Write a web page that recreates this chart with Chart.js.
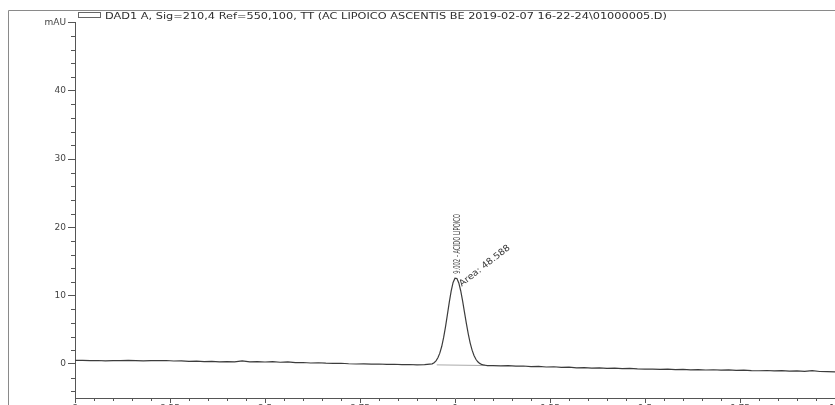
<!DOCTYPE html>
<html><head><meta charset="utf-8">
<script src="https://cdn.jsdelivr.net/npm/chart.js@4/dist/chart.umd.min.js"></script>
<style>
html,body{margin:0;padding:0;overflow:hidden;background:#fff;width:835px;height:405px}
#wrap{position:absolute;left:0;top:0;width:860px;height:430px}
</style>
</head><body><div id="wrap"><canvas id="c" width="860" height="430"></canvas></div>
<script>
// ---- data (min, mAU) ----
const preTimes = [8.00,8.02,8.04,8.06,8.08,8.10,8.12,8.14,8.16,8.18,8.20,8.22,8.24,8.26,8.28,8.30,8.32,8.34,8.36,8.38,8.40,8.42,8.44,8.46,8.48,8.50,8.52,8.54,8.56,8.58,8.60,8.62,8.64,8.66,8.68,8.70,8.72,8.74,8.76,8.78,8.80,8.82,8.84,8.86,8.88,8.90,8.92];
const preMau = [0.52,0.50,0.47,0.49,0.45,0.48,0.46,0.50,0.47,0.44,0.48,0.46,0.49,0.42,0.45,0.36,0.40,0.33,0.37,0.30,0.34,0.28,0.45,0.30,0.33,0.27,0.32,0.24,0.29,0.17,0.20,0.13,0.16,0.10,0.07,0.09,0.02,-0.02,0.01,-0.05,-0.02,-0.08,-0.06,-0.12,-0.09,-0.14,-0.11];
const peakTimes = [8.940,8.945,8.950,8.955,8.960,8.965,8.970,8.975,8.980,8.985,8.990,8.995,9.000,9.005,9.010,9.015,9.020,9.025,9.030,9.035,9.040,9.045,9.050,9.055,9.060,9.065,9.070,9.075,9.080,9.085];
const peakMau = [0.01,0.17,0.44,0.89,1.57,2.54,3.84,5.43,7.21,9.04,10.69,11.92,12.55,12.50,11.85,10.71,9.22,7.55,5.89,4.36,3.05,2.01,1.23,0.67,0.30,0.07,-0.08,-0.16,-0.20,-0.25];
const postTimes = [9.10,9.12,9.14,9.16,9.18,9.20,9.22,9.24,9.26,9.28,9.30,9.32,9.34,9.36,9.38,9.40,9.42,9.44,9.46,9.48,9.50,9.52,9.54,9.56,9.58,9.60,9.62,9.64,9.66,9.68,9.70,9.72,9.74,9.76,9.78,9.80,9.82,9.84,9.86,9.88,9.90,9.92,9.94,9.96,9.98,10.00];
const postMau = [-0.25,-0.30,-0.27,-0.34,-0.31,-0.40,-0.37,-0.46,-0.42,-0.52,-0.49,-0.58,-0.55,-0.62,-0.59,-0.66,-0.63,-0.70,-0.67,-0.73,-0.76,-0.78,-0.80,-0.77,-0.84,-0.81,-0.87,-0.84,-0.90,-0.86,-0.93,-0.89,-0.96,-0.92,-0.98,-1.01,-0.97,-1.04,-1.00,-1.06,-1.03,-1.10,-0.98,-1.12,-1.15,-1.17];
const intTimes = [8.952, 9.090];
const intMau = [-0.15, -0.25];
const peakTime = 9.002;
const peakTop = 12.6;
const peakName = "9.002 - ACIDO LIPOICO";
const peakArea = "Area: 48.588";
const titleText = "DAD1 A, Sig=210,4 Ref=550,100, TT (AC LIPOICO ASCENTIS BE 2019-02-07 16-22-24\\01000005.D)";
const xTicks = [8, 8.25, 8.5, 8.75, 9, 9.25, 9.5, 9.75, 10];
const yTicks = [0, 10, 20, 30, 40, 50];
const yUnit = "mAU";

const times = preTimes.concat(peakTimes, postTimes);
const mau = preMau.concat(peakMau, postMau);
const signal = times.map((t, i) => ({x: t, y: mau[i]}));
const intLine = intTimes.map((t, i) => ({x: t, y: intMau[i]}));

const FONT = '"DejaVu Sans", sans-serif';

const deco = {
  id: 'deco',
  afterDraw(chart) {
    const {ctx, chartArea: a, scales: {x, y}} = chart;
    ctx.save();
    // outer frame
    ctx.strokeStyle = '#8a8a8a'; ctx.lineWidth = 1;
    ctx.beginPath(); ctx.moveTo(8.5, 430); ctx.lineTo(8.5, 10.5); ctx.lineTo(860, 10.5); ctx.stroke();
    // legend swatch
    ctx.strokeStyle = '#666';
    ctx.strokeRect(78.5, 12.5, 22, 5);
    // title
    ctx.fillStyle = '#2e2e2e';
    ctx.font = '9px ' + FONT;
    ctx.textBaseline = 'alphabetic';
    let w = ctx.measureText(titleText).width;
    ctx.save(); ctx.translate(105, 18.5); ctx.scale(562 / w, 1); ctx.fillText(titleText, 0, 0); ctx.restore();
    // minor ticks
    ctx.strokeStyle = '#555'; ctx.lineWidth = 1;
    ctx.beginPath();
    for (let v = -4; v < 50; v += 2) {
      if (v % 10 === 0) continue;
      const py = Math.round(y.getPixelForValue(v)) + 0.5;
      ctx.moveTo(a.left - 4, py); ctx.lineTo(a.left, py);
    }
    for (let k = 0; k <= 40; k++) {
      if (k % 5 === 0) continue;
      const px = Math.round(x.getPixelForValue(8 + k * 0.05)) + 0.5;
      ctx.moveTo(px, a.bottom); ctx.lineTo(px, a.bottom + 3);
    }
    ctx.stroke();
    // peak annotations
    const px = x.getPixelForValue(peakTime), py = y.getPixelForValue(peakTop);
    ctx.fillStyle = '#3a3a3a';
    ctx.font = '9px ' + FONT;
    w = ctx.measureText(peakName).width;
    ctx.save(); ctx.translate(px + 4, py - 4); ctx.rotate(-Math.PI / 2); ctx.scale(60 / w, 1); ctx.fillText(peakName, 0, 0); ctx.restore();
    w = ctx.measureText(peakArea).width;
    ctx.save(); ctx.translate(px + 6, py + 9); ctx.rotate(-38 * Math.PI / 180); ctx.scale(62 / w, 1); ctx.fillText(peakArea, 0, 0); ctx.restore();
    ctx.restore();
  }
};

new Chart(document.getElementById('c'), {
  type: 'line',
  data: {
    datasets: [
      {data: signal, borderColor: '#3c3c3c', borderWidth: 1.2, pointRadius: 0, tension: 0, fill: false},
      {data: intLine, borderColor: '#aaaaaa', borderWidth: 1, pointRadius: 0, tension: 0, fill: false}
    ]
  },
  options: {
    responsive: false,
    animation: false,
    devicePixelRatio: 1,
    layout: {padding: {left: 0, right: 25, top: 22.5, bottom: 12}},
    plugins: {legend: {display: false}, tooltip: {enabled: false}, title: {display: false}},
    scales: {
      x: {
        type: 'linear', min: 8, max: 10,
        afterBuildTicks: s => { s.ticks = xTicks.map(v => ({value: v})); },
        afterFit: s => { s.height = 20; },
        ticks: {callback: v => String(v), font: {family: FONT, size: 9}, color: '#444', padding: 0, maxRotation: 0, autoSkip: false},
        grid: {drawOnChartArea: false, tickLength: 5, color: '#555', tickColor: '#555'},
        border: {color: '#555', width: 1}
      },
      y: {
        type: 'linear', min: -5, max: 50,
        afterBuildTicks: s => { s.ticks = yTicks.map(v => ({value: v})); },
        afterFit: s => { s.width = 75; },
        ticks: {callback: v => (v === 50 ? yUnit : String(v)), font: {family: FONT, size: 9}, color: '#444', padding: 2, autoSkip: false},
        grid: {drawOnChartArea: false, tickLength: 7, color: '#555', tickColor: '#555'},
        border: {color: '#555', width: 1}
      }
    }
  },
  plugins: [deco]
});
</script>
</body></html>
